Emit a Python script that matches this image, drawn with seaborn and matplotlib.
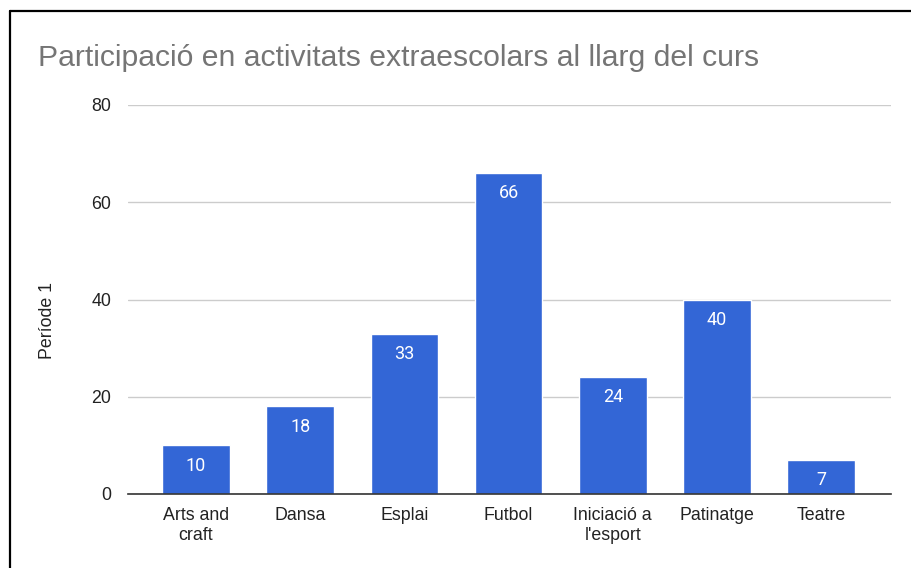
import matplotlib
matplotlib.use("Agg")
import matplotlib.pyplot as plt
import seaborn as sns
import pandas as pd
from matplotlib.lines import Line2D

categories = ["Arts and\ncraft", "Dansa", "Esplai", "Futbol", "Iniciació a\nl'esport", "Patinatge", "Teatre"]
values = [10, 18, 33, 66, 24, 40, 7]
yticks = [0, 20, 40, 60, 80]
title = "Participació en activitats extraescolars al llarg del curs"
ylabel = "Període 1"

sns.set_theme(style="white")
plt.rcParams["font.family"] = ["Liberation Sans", "DejaVu Sans"]

df = pd.DataFrame({"cat": categories, "val": values})

fig = plt.figure(figsize=(9.11, 5.68), dpi=100)
ax = fig.add_axes([128/911, 74/568, 763/911, 389/568])

sns.barplot(data=df, x="cat", y="val", color="#3366d6", saturation=1, width=0.65, ax=ax, zorder=3)

ax.set_xlim(-0.653, 6.67)
ax.set_ylim(0, 80)
ax.set_yticks(yticks)
ax.set_yticklabels([str(t) for t in yticks], fontsize=12.8, color="#222222")
ax.tick_params(axis="x", labelsize=12.8, colors="#222222", length=0, pad=9)
ax.tick_params(axis="y", length=0, pad=12)
for lbl in ax.get_xticklabels():
    lbl.set_linespacing(1.25)
ax.grid(axis="y", color="#cccccc", linewidth=1, zorder=0)
ax.set_xlabel("")
ax.set_ylabel(ylabel, fontsize=12.8, color="#222222")
ax.yaxis.set_label_coords(-0.094, 0.447)
for s in ["top", "right", "left"]:
    ax.spines[s].set_visible(False)
ax.spines["bottom"].set_color("#333333")
ax.spines["bottom"].set_linewidth(1.2)
ax.spines["bottom"].set_zorder(4)

for c in ax.containers:
    ax.bar_label(c, labels=[str(v) for v in values], label_type="edge", padding=-21,
                 color="white", fontsize=13, fontfamily="Roboto")

fig.text(38/911, 1 - 58/568, title, fontsize=21.7, color="#757575", va="center", ha="left")

fig.add_artist(Line2D([9.5/911, 9.5/911], [0, 1 - 11/568], color="black", linewidth=1.6, transform=fig.transFigure))
fig.add_artist(Line2D([9.5/911, 1], [1 - 11/568, 1 - 11/568], color="black", linewidth=1.6, transform=fig.transFigure))

fig.savefig("out.png", dpi=100)
